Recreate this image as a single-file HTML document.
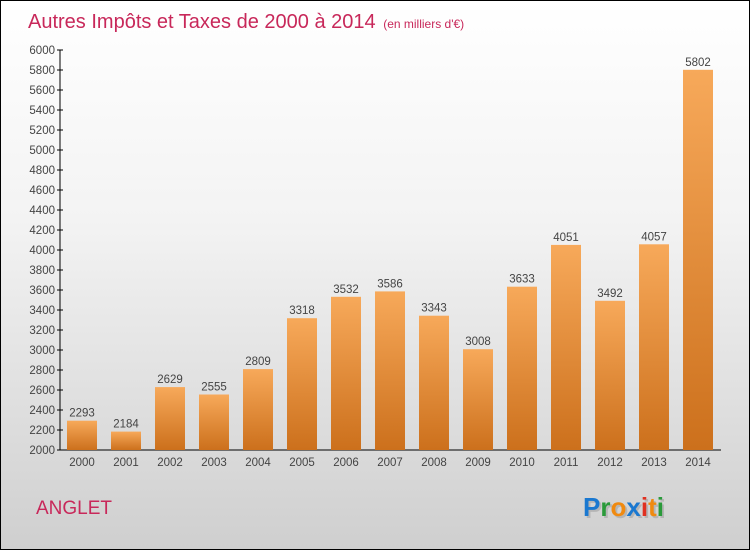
<!DOCTYPE html>
<html><head><meta charset="utf-8"><style>
body{margin:0}
#wrap{position:relative;width:748px;height:548px;border:1px solid #000;background:linear-gradient(#fff 0%,#f3f3f3 40%,#cfcfcf 100%);font-family:"Liberation Sans",sans-serif;overflow:hidden}
</style></head><body>
<div id="wrap">
<svg id="chart" width="748" height="548">
<defs><linearGradient id="bg" x1="0" y1="0" x2="0" y2="1"><stop offset="0" stop-color="#f7a95a"/><stop offset="1" stop-color="#cc701c"/></linearGradient></defs>
<text x="27" y="27" font-size="20" fill="#c8285a">Autres Impôts et Taxes de 2000 à 2014 <tspan font-size="12" dx="2">(en milliers d'€)</tspan></text>
<text x="35" y="513" font-size="19" fill="#c8285a">ANGLET</text>
<g font-size="26" font-weight="bold" font-family="'Liberation Sans',sans-serif">
<text x="584" y="517" fill="#999" opacity="0.5">Proxiti</text>
<text x="582" y="515"><tspan fill="#1a78d0">P</tspan><tspan fill="#2a9a3a">r</tspan><tspan fill="#f08a10">o</tspan><tspan fill="#1a78d0">x</tspan><tspan fill="#e03020">i</tspan><tspan fill="#f08a10">t</tspan><tspan fill="#2a9a3a">i</tspan></text>
</g>
<g id="axes"></g><g id="bars"></g>
</svg>
</div>
<script>
const years=["2000","2001","2002","2003","2004","2005","2006","2007","2008","2009","2010","2011","2012","2013","2014"];
const values=[2293,2184,2629,2555,2809,3318,3532,3586,3343,3008,3633,4051,3492,4057,5802];
const yTicks=[2000,2200,2400,2600,2800,3000,3200,3400,3600,3800,4000,4200,4400,4600,4800,5000,5200,5400,5600,5800,6000];
const NS="http://www.w3.org/2000/svg";
const y=v=>449-(v-2000)/4000*400;
const x=i=>81+i*44;
function mk(t,a,p){const e=document.createElementNS(NS,t);for(const k in a)e.setAttribute(k,a[k]);p.appendChild(e);return e;}
const ax=document.getElementById('axes'),bars=document.getElementById('bars');
let l=mk('line',{x1:59,y1:49,x2:59,y2:449,stroke:'#000'},ax);


l=mk('line',{x1:59,y1:449,x2:720,y2:449,stroke:'#000'},ax);


yTicks.forEach(v=>{
 mk('line',{x1:56,y1:y(v),x2:62,y2:y(v),stroke:'#000'},ax);
 const t=mk('text',{x:54,y:y(v)+4,'text-anchor':'end','font-size':11.5,fill:'#444'},ax);t.textContent=v;
 
 
});
years.forEach((yr,i)=>{
 const r=mk('rect',{x:x(i)-15,y:y(values[i]),width:30,height:449-y(values[i]),fill:'url(#bg)'},bars);
 
 
 const t=mk('text',{x:x(i),y:y(values[i])-4,'text-anchor':'middle','font-size':11.5,fill:'#444'},bars);t.textContent=values[i];
 
 
 const xl=mk('text',{x:x(i),y:465,'text-anchor':'middle','font-size':11.5,fill:'#444'},ax);xl.textContent=yr;
 
 
});
</script>
</body></html>
